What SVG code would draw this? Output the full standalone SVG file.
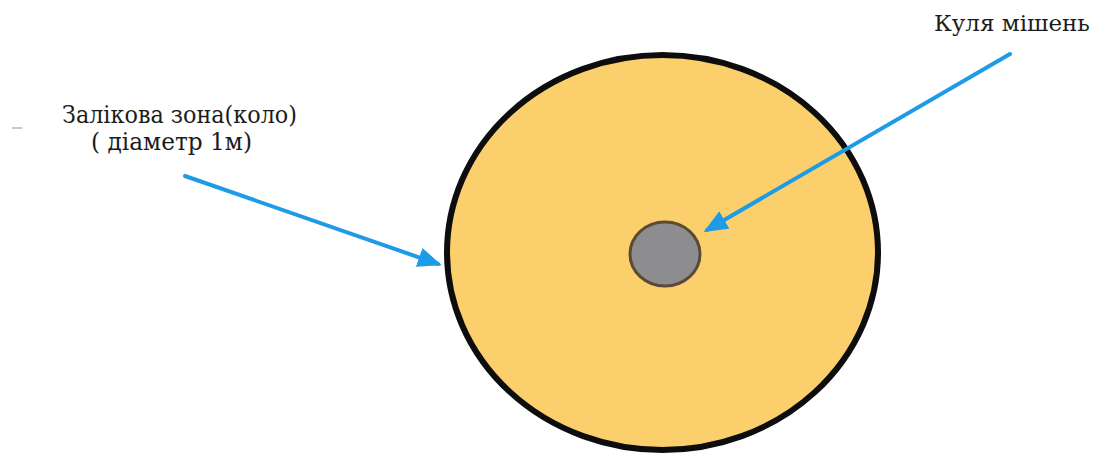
<svg xmlns="http://www.w3.org/2000/svg" width="1094" height="456" viewBox="0 0 1094 456">
  <style>
    .lbl { font-family: 'DejaVu Serif', 'Liberation Serif', serif; font-size: 25px; fill: #1c1c1c; }
    .lbl-r { font-family: 'DejaVu Serif', 'Liberation Serif', serif; font-size: 23px; fill: #1c1c1c; }
    .conn { stroke: #1e9be6; stroke-width: 4; fill: none; stroke-linecap: round; }
  </style>
  <defs>
    <marker id="ah" markerWidth="6" markerHeight="5" refX="5" refY="2.5" orient="auto" markerUnits="strokeWidth">
      <path d="M0,0 L6,2.5 L0,5 Z" fill="#1e9be6"/>
    </marker>
  </defs>
  <rect width="1094" height="456" fill="#ffffff"/>
  <line x1="12" y1="128" x2="22" y2="128" stroke="#b8b8b8" stroke-width="1.5"/>
  <g id="zone">
    <ellipse cx="662.5" cy="252.5" rx="215.5" ry="197.5" fill="#fbcf6c" stroke="#0d0d0d" stroke-width="6"/>
  </g>
  <g id="ball">
    <ellipse cx="665" cy="254" rx="35" ry="32" fill="#8d8d8f" stroke="#5b4a35" stroke-width="3"/>
  </g>
  <g id="label-zone">
    <text class="lbl" x="62" y="123" textLength="235" lengthAdjust="spacingAndGlyphs">Залікова зона(коло)</text>
    <text class="lbl" x="91" y="150" textLength="161" lengthAdjust="spacingAndGlyphs">( діаметр 1м)</text>
  </g>
  <g id="label-ball">
    <text class="lbl-r" x="934" y="31">Куля мішень</text>
  </g>
  <g id="connectors">
    <line class="conn" x1="185" y1="176" x2="438" y2="264" marker-end="url(#ah)"/>
    <line class="conn" x1="1010" y1="54" x2="707" y2="230" marker-end="url(#ah)"/>
  </g>
</svg>
